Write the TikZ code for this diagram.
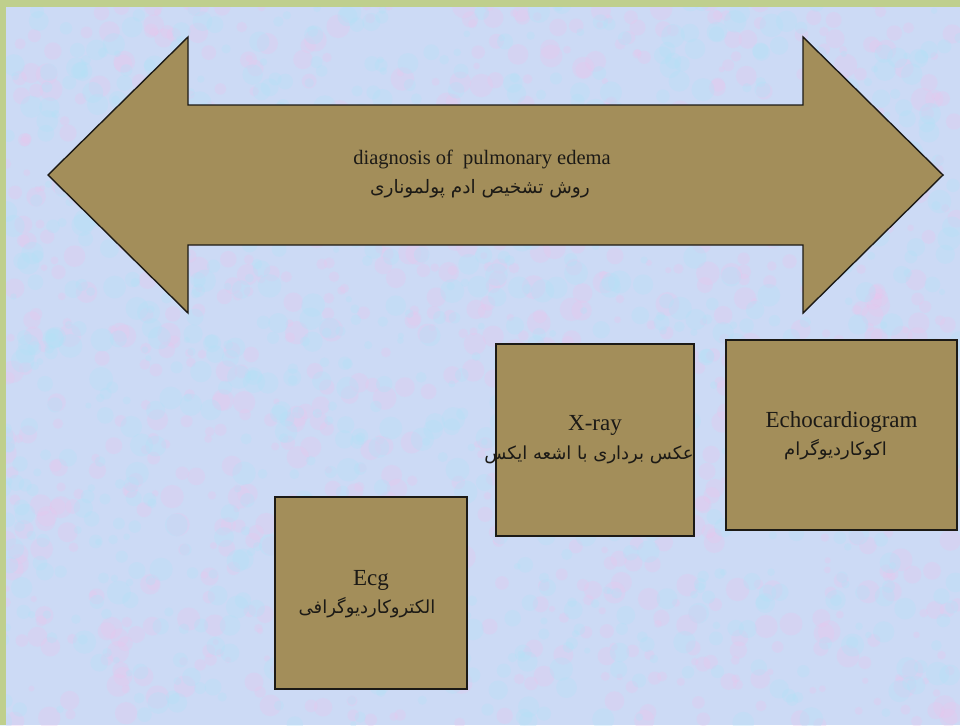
\documentclass[tikz,border=0pt]{standalone}
\usepackage{fontspec}
\usetikzlibrary{calc}
\setmainfont{Liberation Serif}
\newfontfamily\fa[Script=Arabic]{DejaVu Sans}
\TeXXeTstate=1
\definecolor{paper}{RGB}{204,218,245}
\definecolor{pinkspot}{RGB}{232,198,238}
\definecolor{cyanspot}{RGB}{178,226,248}
\definecolor{frame}{RGB}{191,207,141}
\definecolor{olive}{RGB}{163,142,90}
\definecolor{ink}{RGB}{28,26,22}
\begin{document}
\begin{tikzpicture}[x=1pt,y=-1pt,
  shapeline/.style={draw=ink,line width=1.4pt,fill=olive,line join=miter},
  box/.style={shapeline,rectangle,inner sep=0pt},
  label/.style={inner sep=0pt,text=ink,align=center},
  entext/.style={font=\fontsize{23}{30}\selectfont},
  fatext/.style={font=\fontsize{18}{22}\fa}]
\useasboundingbox (0,0) rectangle (960,725);
% mottled paper background
\fill[paper] (0,0) rectangle (960,725);
\pgfmathsetseed{11}
\foreach \i in {1,...,1000}{
  \pgfmathsetmacro\px{rnd*960}
  \pgfmathsetmacro\py{rnd*725}
  \pgfmathsetmacro\pr{3+rnd*9}
  \fill[pinkspot,opacity=0.3] (\px,\py) circle (\pr pt);
}
\foreach \i in {1,...,1000}{
  \pgfmathsetmacro\px{rnd*960}
  \pgfmathsetmacro\py{rnd*725}
  \pgfmathsetmacro\pr{3+rnd*9}
  \fill[cyanspot,opacity=0.3] (\px,\py) circle (\pr pt);
}
% frame strips on the left and top
\fill[frame] (0,0) rectangle (6,725);
\fill[frame] (0,0) rectangle (960,7);
% double-headed arrow
\draw[shapeline] (48,175) -- (188,37) -- (188,105) -- (803,105) -- (803,37)
  -- (943,175) -- (803,313) -- (803,245) -- (188,245) -- (188,313) -- cycle;
\node[label,font=\fontsize{20.5}{24}\selectfont] (titleen) at (482,159)
  {diagnosis of\ \ pulmonary edema};
\node[label,font=\fontsize{18.5}{22}\fa] (titlefa) at (480,189)
  {\beginR روش تشخیص ادم پولموناری\endR};
% method boxes
\node[box,minimum width=198pt,minimum height=192pt] (xray) at (595,440) {};
\node[box,minimum width=231pt,minimum height=190pt] (echo) at (841.5,435) {};
\node[box,minimum width=192pt,minimum height=192pt] (ecg) at (371,593) {};
% box captions
\node[label,entext] (xrayen) at ($(xray.center)+(0,-15)$) {X-ray};
\node[label,fatext] (xrayfa) at ($(xray.center)+(-6,15)$)
  {\beginR عکس برداری با اشعه ایکس\endR};
\node[label,entext] (echoen) at ($(echo.center)+(0,-13)$) {Echocardiogram};
\node[label,fatext] (echofa) at ($(echo.center)+(-6,15)$)
  {\beginR اکوکاردیوگرام\endR};
\node[label,entext] (ecgen) at ($(ecg.center)+(0,-13)$) {Ecg};
\node[label,fatext] (ecgfa) at ($(ecg.center)+(-4,15)$)
  {\beginR الکتروکاردیوگرافی\endR};
\end{tikzpicture}
\end{document}
